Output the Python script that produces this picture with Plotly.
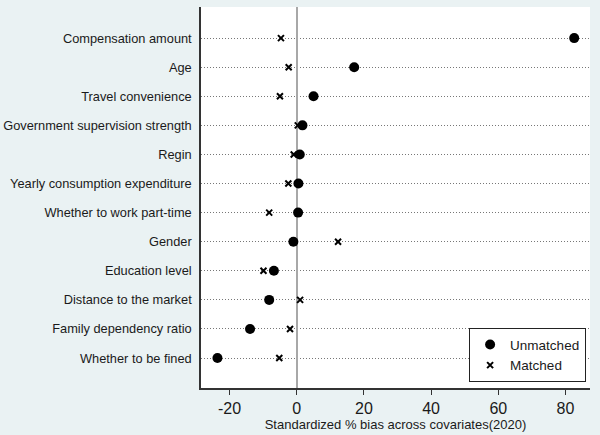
import plotly.graph_objects as go

covariates = [
    "Compensation amount", "Age", "Travel convenience",
    "Government supervision strength", "Regin",
    "Yearly consumption expenditure", "Whether to work part-time",
    "Gender", "Education level", "Distance to the market",
    "Family dependency ratio", "Whether to be fined",
]
unmatched = [82.6, 17.1, 5.0, 1.7, 0.9, 0.5, 0.4, -1.0, -6.8, -8.2, -13.9, -23.6]
matched = [-4.7, -2.4, -5.0, 0.3, -0.9, -2.5, -8.2, 12.3, -9.9, 1.0, -2.0, -5.2]
x_ticks = [-20, 0, 20, 40, 60, 80]
x_tick_labels = ["-20", "0", "20", "40", "60", "80"]

rows = list(range(1, len(covariates) + 1))
FONT = "Liberation Sans, Arial, sans-serif"

fig = go.Figure()
fig.add_trace(go.Scatter(
    x=unmatched, y=rows, mode="markers", name="Unmatched",
    marker=dict(symbol="circle", size=10, color="black"),
))
fig.add_trace(go.Scatter(
    x=matched, y=rows, mode="markers", name="Matched",
    marker=dict(symbol="x-thin", size=6, color="black",
                line=dict(width=2, color="black")),
))

fig.update_layout(
    width=600, height=435,
    margin=dict(l=201, r=10, t=7, b=47),
    paper_bgcolor="#eaf2f3", plot_bgcolor="white",
    font=dict(family=FONT, color="#1a1a1a", size=13),
    showlegend=True,
    legend=dict(
        x=0.99, y=0.015, xanchor="right", yanchor="bottom",
        bgcolor="white", bordercolor="#222", borderwidth=1,
        font=dict(size=13.5, family=FONT, color="#1a1a1a"),
        itemsizing="trace", tracegroupgap=0,
    ),
)
fig.update_xaxes(
    range=[-28.5, 87.3], tickvals=x_ticks, ticktext=x_tick_labels,
    automargin=False,
    ticks="outside", ticklen=5, tickcolor="#333", tickwidth=1,
    tickfont=dict(size=16, family=FONT, color="#1a1a1a"),
    showgrid=False, showline=True, linecolor="#333", linewidth=1.5,
    zeroline=True, zerolinecolor="#a8a8a8", zerolinewidth=2,
    title=dict(text="Standardized % bias across covariates(2020)",
               font=dict(size=13, family=FONT, color="#1a1a1a"), standoff=2),
)
fig.update_yaxes(
    range=[13.03, -0.07], tickvals=rows, ticktext=covariates,
    automargin=False,
    ticks="outside", ticklen=5, tickcolor="rgba(0,0,0,0)",
    tickfont=dict(size=12.8, family=FONT, color="#1a1a1a"),
    showgrid=True, gridcolor="#777777", gridwidth=1, griddash="1px,2px",
    showline=True, linecolor="#333", linewidth=1.5, zeroline=False,
)

fig.write_html("out.html")
